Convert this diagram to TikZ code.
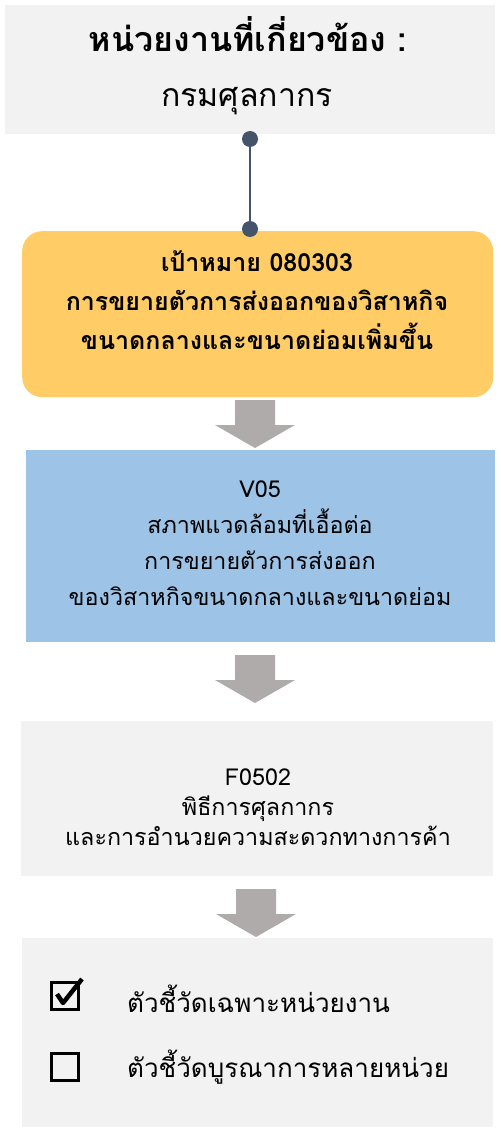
\documentclass[tikz,border=0pt]{standalone}
\usepackage{fontspec}
\usetikzlibrary{calc}
\newfontfamily\thai[Script=Thai]{Loma}
\setmainfont[Script=Thai]{Loma}
\newcommand\tightls{\lineskiplimit=-100pt\relax}
\definecolor{boxgray}{HTML}{F2F2F2}
\definecolor{boxorange}{HTML}{FFCC66}
\definecolor{boxblue}{HTML}{9DC3E6}
\definecolor{arrowgray}{HTML}{AFABAB}
\definecolor{linkblue}{HTML}{44546A}
\tikzset{
  panel/.style={fill=#1, draw=none, inner sep=0pt, minimum width=471pt},
  txt/.style={align=center, inner sep=0pt, text=black},
  dotend/.style={circle, fill=linkblue, minimum size=16pt, inner sep=0pt},
  link/.style={draw=linkblue, line width=2.5pt},
  blockarrow/.pic={\fill[arrowgray] (-20,0) -- (20,0) -- (20,25) -- (40,25) -- (0,48) -- (-40,25) -- (-20,25) -- cycle;},
  chk/.style={draw=black, line width=3.2pt, minimum size=27pt, inner sep=0pt}
}
\begin{document}
\begin{tikzpicture}[x=1pt,y=-1pt]
\useasboundingbox (0,0) rectangle (500,1131);
% top box
\node[panel=boxgray, minimum width=490pt, minimum height=129pt, anchor=north west] (top) at (5,5) {};
\node[txt, font=\fontsize{34}{40}\selectfont\bfseries] (toptitle) at (248,34) {หน่วยงานที่เกี่ยวข้อง :};
\node[txt, font=\fontsize{32}{40}\selectfont] (topname) at (247,101) {กรมศุลกากร};
% orange
\node[panel=boxorange, rounded corners=20pt, minimum width=471pt, minimum height=166pt, anchor=north west] (goal) at (22,231) {};
% connector
\node[dotend] (d1) at (250,139) {};
\node[dotend] (d2) at (250,229) {};
\draw[link] (d1.center) -- (d2.center);
\node[txt, font=\fontsize{25}{39}\selectfont\bfseries\tightls] (goaltxt) at (257,300) {เป้าหมาย 080303\\การขยายตัวการส่งออกของวิสาหกิจ\\ขนาดกลางและขนาดย่อมเพิ่มขึ้น};
\pic at (255,400) {blockarrow};
% blue
\node[panel=boxblue, minimum width=469pt, minimum height=192pt, anchor=north west] (v05) at (26,450) {};
\node[txt, font=\fontsize{23.3}{36}\selectfont\tightls] (v05txt) at (260,543) {V05\\สภาพแวดล้อมที่เอื้อต่อ\\การขยายตัวการส่งออก\\ของวิสาหกิจขนาดกลางและขนาดย่อม};
\pic at (255,655) {blockarrow};
% F0502
\node[panel=boxgray, minimum width=472pt, minimum height=155pt, anchor=north west] (f0502) at (21,721) {};
\node[txt, font=\fontsize{23.3}{30}\selectfont\tightls] (f0502txt) at (258,807) {F0502\\พิธีการศุลกากร\\และการอำนวยความสะดวกทางการค้า};
\pic at (256,889) {blockarrow};
% bottom
\node[panel=boxgray, minimum width=471pt, minimum height=189pt, anchor=north west] (kpi) at (22,938) {};
\node[chk] (c1) at (65,996) {};
\draw[line width=4.5pt, line join=round] ($(c1.center)+(-8,-2)$) -- ($(c1.center)+(-2,7)$) -- ($(c1.center)+(17,-17)$);
\node[chk] (c2) at (65,1067) {};
\node[txt, anchor=west, font=\fontsize{26}{30}\selectfont] (k1) at (127,999) {ตัวชี้วัดเฉพาะหน่วยงาน};
\node[txt, anchor=west, font=\fontsize{26}{30}\selectfont] (k2) at (127,1067) {ตัวชี้วัดบูรณาการหลายหน่วย};
\end{tikzpicture}
\end{document}
